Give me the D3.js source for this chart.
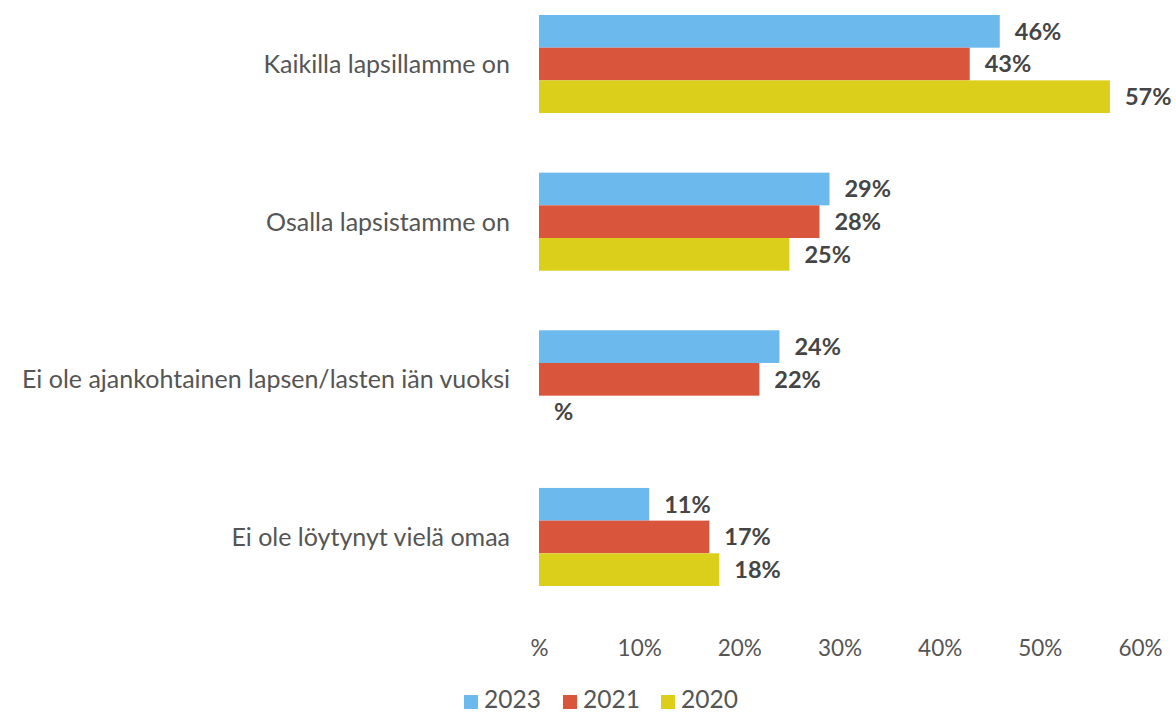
<!DOCTYPE html>
<html><head><meta charset="utf-8">
<script src="https://cdn.jsdelivr.net/npm/d3@7"></script>
<style>body{margin:0;background:#fff}svg{display:block}text{font-family:Lato,"Open Sans",sans-serif}</style>
</head><body>
<svg id="c" width="1176" height="713"></svg>
<script>
const categories = ["Kaikilla lapsillamme on","Osalla lapsistamme on","Ei ole ajankohtainen lapsen/lasten iän vuoksi","Ei ole löytynyt vielä omaa"];
const seriesNames = ["2023","2021","2020"];
const values2023 = [46,29,24,11];
const values2021 = [43,28,22,17];
const values2020 = [57,25,null,18];
const tickValues = [0,10,20,30,40,50,60];
const tickLabels = ["%","10%","20%","30%","40%","50%","60%"];
const colors = ["#6cb9ee","#d9553b","#dbcf1b"];

const series = [values2023, values2021, values2020];
const svg = d3.select("#c");
const x = d3.scaleLinear().domain([0,60]).range([539,1140]);
const y0 = d3.scaleBand().domain(categories).range([15,586]).paddingInner(0.378).paddingOuter(0);
const y1 = d3.scaleBand().domain(seriesNames).range([0,y0.bandwidth()]);
const color = d3.scaleOrdinal().domain(seriesNames).range(colors);

const rows = [];
categories.forEach((c,i)=>seriesNames.forEach((s,j)=>rows.push({c,s,v:series[j][i]})));

svg.append("g").selectAll("rect").data(rows.filter(d=>d.v!=null)).join("rect")
  .attr("x",x(0)).attr("y",d=>y0(d.c)+y1(d.s))
  .attr("width",d=>x(d.v)-x(0)).attr("height",y1.bandwidth())
  .attr("fill",d=>color(d.s));

svg.append("g").selectAll("text").data(rows).join("text")
  .attr("x",d=>x(d.v==null?0:d.v)+15).attr("y",d=>y0(d.c)+y1(d.s)+y1.bandwidth()/2)
  .attr("dy","0.36em").attr("font-size",23.5).attr("font-weight","bold").attr("fill","#454545")
  .text(d=>d.v==null?"%":d.v+"%");

// category labels
svg.append("g").selectAll("text").data(categories).join("text")
  .attr("x",510).attr("y",d=>y0(d)+y0.bandwidth()/2).attr("dy","0.36em")
  .attr("text-anchor","end").attr("font-size",25).attr("fill","#555")
  .text(d=>d);

// x axis
const xAxis = d3.axisBottom(x).tickValues(tickValues).tickFormat((d,i)=>tickLabels[i]).tickSize(0).tickPadding(0);
const gx = svg.append("g").attr("transform","translate(0,640)").call(xAxis);
gx.select(".domain").remove();
gx.selectAll("text").attr("font-size",22.5).attr("fill","#555").attr("font-family","Lato,sans-serif").attr("dy","0.36em").attr("y",8);

// legend
const leg = svg.append("g");
const lx = [464,563,661];
seriesNames.forEach((s,i)=>{
  leg.append("rect").attr("x",lx[i]).attr("y",695).attr("width",14).attr("height",14).attr("fill",color(s));
  leg.append("text").attr("x",lx[i]+20).attr("y",708).attr("font-size",24.5).attr("fill","#555").text(s);
});
</script>
</body></html>
